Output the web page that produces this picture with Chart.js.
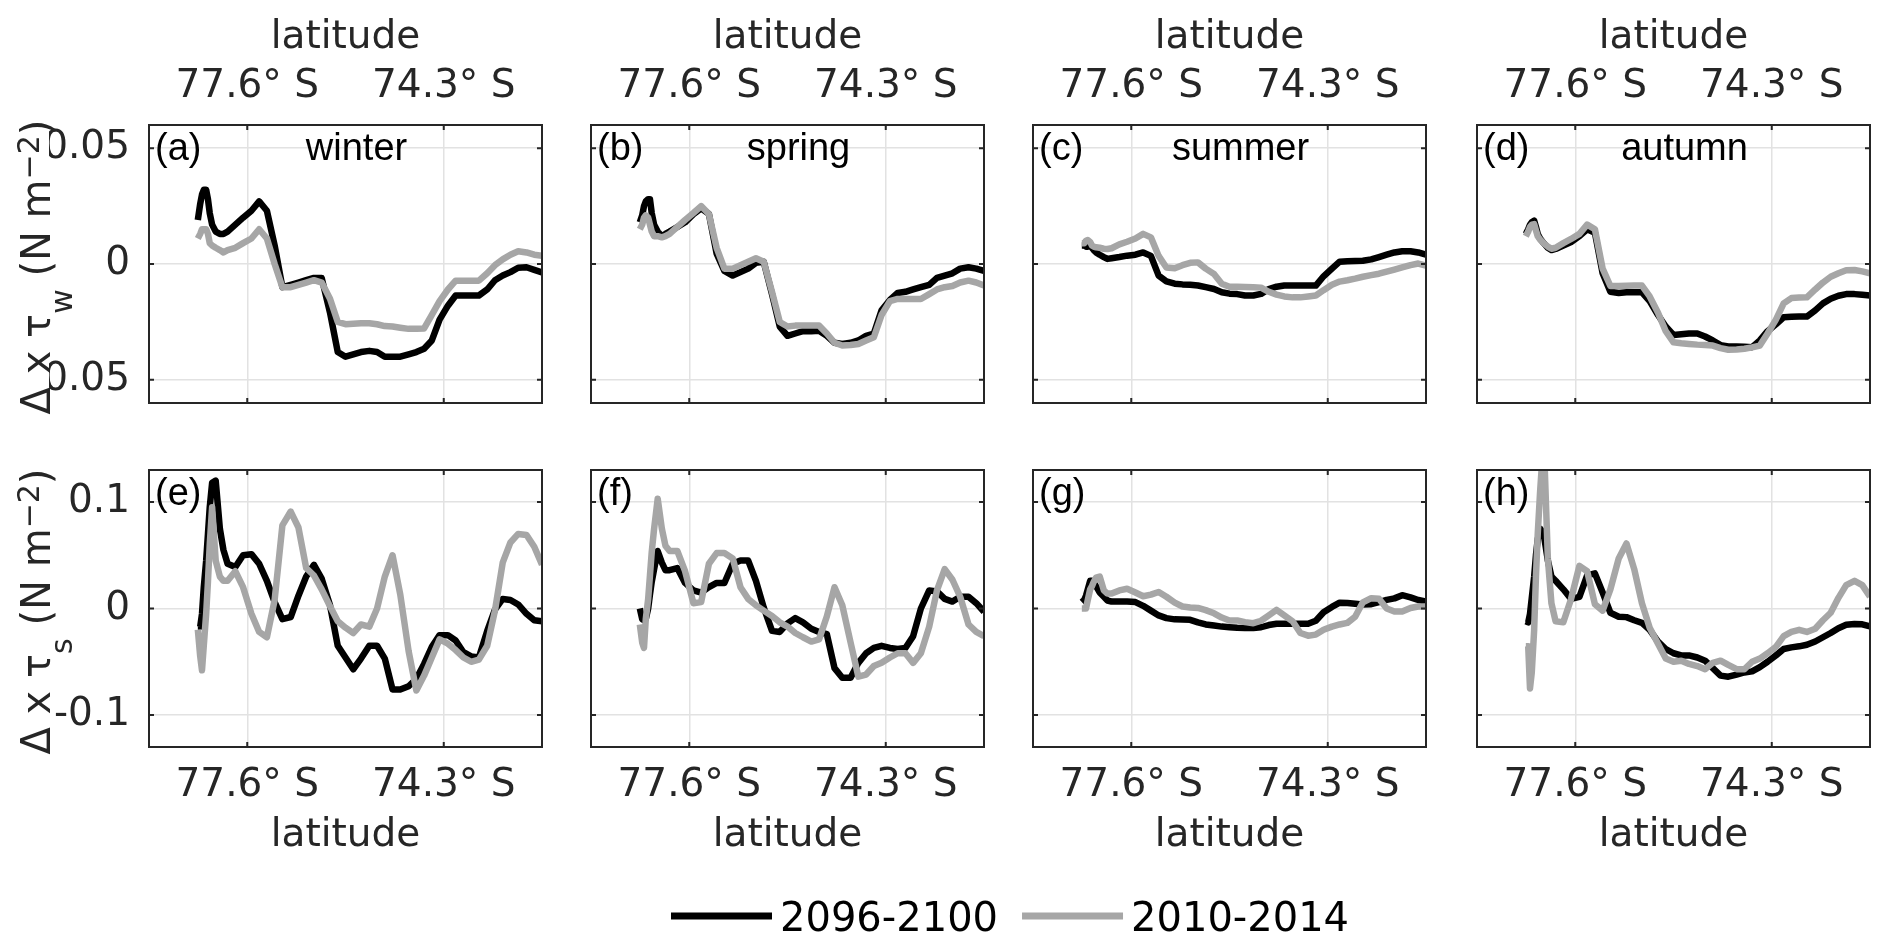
<!DOCTYPE html>
<html>
<head>
<meta charset="utf-8">
<script src="https://cdn.jsdelivr.net/npm/chart.js@4.4.1/dist/chart.umd.min.js"></script>
<style>
  html, body { margin: 0; padding: 0; background: #fff; }
  #fig { position: relative; width: 1892px; height: 950px; }
  #fig canvas { position: absolute; left: 0; top: 0; }
</style>
</head>
<body>
<div id="fig"></div>
<script>
// latitude (deg S) of each sample along the transect
const latitude = [78.43, 78.39, 78.36, 78.33, 78.29, 78.26, 78.23, 78.19, 78.13, 78.06, 78.00, 77.93,
    77.80, 77.67, 77.53, 77.40, 77.27, 77.14, 77.01, 76.87, 76.74, 76.61,
    76.48, 76.35, 76.21, 76.08, 75.95, 75.82, 75.69, 75.55, 75.42, 75.29,
    75.16, 75.03, 74.89, 74.76, 74.63, 74.50, 74.37, 74.23, 74.10, 73.97,
    73.84, 73.71, 73.57, 73.44, 73.31, 73.18, 73.05, 72.91, 72.78, 72.65];

const seasons = ["winter", "spring", "summer", "autumn"];
const panelTags = ["(a)", "(b)", "(c)", "(d)", "(e)", "(f)", "(g)", "(h)"];
const seriesLabels = ["2096-2100", "2010-2014"];
const xTicks = [77.6, 74.3];
const yTicksWind = [-0.05, 0, 0.05];
const yTicksStress = [-0.1, 0, 0.1];

// top row: delta x tau_w (N m-2)
const windWinter2096 = [0.019, 0.026, 0.030, 0.032, 0.032, 0.028, 0.022, 0.017, 0.014, 0.013, 0.013, 0.014,
    0.017, 0.020, 0.023, 0.027, 0.023, 0.008, -0.010, -0.009, -0.008, -0.007,
    -0.006, -0.006, -0.021, -0.038, -0.040, -0.039, -0.038, -0.0375, -0.038, -0.040,
    -0.040, -0.040, -0.039, -0.038, -0.0366, -0.033, -0.024, -0.018, -0.0136, -0.0136,
    -0.0136, -0.0136, -0.011, -0.007, -0.005, -0.0035, -0.0016, -0.0014, -0.0025, -0.0036];
const windWinter2010 = [0.011, 0.013, 0.015, 0.015, 0.015, 0.013, 0.009, 0.008, 0.007, 0.006, 0.005, 0.006,
    0.007, 0.009, 0.011, 0.015, 0.011, 0.0, -0.010, -0.010, -0.009, -0.008,
    -0.007, -0.008, -0.015, -0.025, -0.026, -0.0258, -0.0256, -0.0256, -0.026, -0.0268,
    -0.027, -0.0275, -0.028, -0.028, -0.0278, -0.022, -0.016, -0.011, -0.0072, -0.0072,
    -0.0072, -0.0072, -0.004, -0.0005, 0.002, 0.004, 0.0055, 0.005, 0.004, 0.0036];
const windSpring2096 = [0.018, 0.021, 0.025, 0.027, 0.028, 0.028, 0.022, 0.017, 0.014, 0.012, 0.013, 0.014,
    0.016, 0.018, 0.0215, 0.024, 0.0216, 0.0045, -0.003, -0.005, -0.0035, -0.002,
    0.0005, 0.001, -0.013, -0.027, -0.031, -0.030, -0.029, -0.029, -0.0288, -0.031,
    -0.034, -0.0345, -0.034, -0.033, -0.031, -0.030, -0.020, -0.0155, -0.0125, -0.012,
    -0.011, -0.010, -0.009, -0.006, -0.005, -0.004, -0.002, -0.0014, -0.002, -0.003];
const windSpring2010 = [0.015, 0.017, 0.020, 0.021, 0.020, 0.017, 0.014, 0.012, 0.012, 0.0115, 0.012, 0.013,
    0.016, 0.019, 0.022, 0.025, 0.0216, 0.007, -0.002, -0.002, -0.0005, 0.001,
    0.0025, 0.001, -0.012, -0.025, -0.027, -0.0266, -0.0266, -0.0266, -0.0266, -0.030,
    -0.034, -0.0352, -0.035, -0.0345, -0.033, -0.0316, -0.022, -0.016, -0.0151, -0.0151,
    -0.0151, -0.0151, -0.013, -0.011, -0.010, -0.0095, -0.008, -0.0072, -0.008, -0.0093];
const windSummer2096 = [0.008, 0.008, 0.0075, 0.0075, 0.008, 0.007, 0.006, 0.005, 0.004, 0.003, 0.0022, 0.0025,
    0.003, 0.0036, 0.004, 0.005, 0.0035, -0.005, -0.0075, -0.0085, -0.0088, -0.009,
    -0.0093, -0.010, -0.0108, -0.0122, -0.0128, -0.013, -0.0136, -0.0136, -0.0129, -0.0108,
    -0.0098, -0.0093, -0.0093, -0.0093, -0.0093, -0.0093, -0.0053, -0.002, 0.001, 0.0012,
    0.0013, 0.0014, 0.002, 0.003, 0.004, 0.005, 0.0055, 0.0055, 0.005, 0.004];
const windSummer2010 = [0.009, 0.009, 0.010, 0.0103, 0.0095, 0.008, 0.0075, 0.0072, 0.007, 0.0066, 0.0065, 0.0068,
    0.0085, 0.0096, 0.011, 0.013, 0.0115, 0.0035, -0.0015, -0.0018, -0.0005, 0.0005,
    0.0007, -0.002, -0.0043, -0.0085, -0.0098, -0.0098, -0.0099, -0.010, -0.0102, -0.012,
    -0.0132, -0.014, -0.0144, -0.0144, -0.014, -0.0136, -0.0113, -0.009, -0.0076, -0.007,
    -0.0063, -0.0055, -0.0048, -0.0042, -0.0033, -0.0024, -0.0015, -0.0005, 0.0002, -0.0007];
const windAutumn2096 = [0.013, 0.015, 0.017, 0.018, 0.0187, 0.016, 0.013, 0.011, 0.009, 0.007, 0.006, 0.0065,
    0.008, 0.0095, 0.012, 0.015, 0.0135, -0.004, -0.012, -0.0125, -0.0122, -0.0122,
    -0.0122, -0.016, -0.022, -0.027, -0.0306, -0.0303, -0.030, -0.030, -0.0313, -0.033,
    -0.035, -0.0356, -0.0356, -0.0357, -0.0359, -0.033, -0.029, -0.026, -0.023, -0.0228,
    -0.0227, -0.0227, -0.020, -0.017, -0.015, -0.0137, -0.013, -0.013, -0.0133, -0.0136];
const windAutumn2010 = [0.012, 0.014, 0.016, 0.017, 0.0172, 0.0145, 0.012, 0.0105, 0.009, 0.0075, 0.0066, 0.007,
    0.009, 0.0108, 0.013, 0.017, 0.015, -0.002, -0.0095, -0.0095, -0.0094, -0.0093,
    -0.0093, -0.014, -0.021, -0.029, -0.0338, -0.0342, -0.0345, -0.0348, -0.035, -0.0352,
    -0.0363, -0.037, -0.0369, -0.0366, -0.036, -0.0352, -0.030, -0.024, -0.017, -0.0147,
    -0.0145, -0.0144, -0.011, -0.008, -0.0055, -0.004, -0.0027, -0.0026, -0.0032, -0.004];

// bottom row: delta x tau_s (N m-2)
const stressWinter2096 = [-0.017, -0.017, -0.005, 0.020, 0.045, 0.070, 0.095, 0.118, 0.120, 0.075, 0.055, 0.042,
    0.039, 0.050, 0.051, 0.042, 0.026, 0.006, -0.010, -0.008, 0.012, 0.030,
    0.041, 0.028, 0.003, -0.035, -0.046, -0.057, -0.047, -0.035, -0.035, -0.047,
    -0.076, -0.076, -0.073, -0.066, -0.052, -0.036, -0.025, -0.025, -0.030, -0.041,
    -0.045, -0.046, -0.021, -0.001, 0.009, 0.008, 0.0038, -0.005, -0.011, -0.012];
const stressWinter2010 = [-0.020, -0.045, -0.058, -0.035, -0.005, 0.025, 0.060, 0.095, 0.045, 0.030, 0.026, 0.026,
    0.035, 0.020, -0.005, -0.022, -0.027, 0.008, 0.078, 0.091, 0.076, 0.038,
    0.031, 0.018, 0.002, -0.012, -0.018, -0.023, -0.015, -0.017, 0.0, 0.030,
    0.050, 0.013, -0.040, -0.077, -0.063, -0.046, -0.029, -0.033, -0.039, -0.046,
    -0.050, -0.048, -0.035, -0.002, 0.043, 0.062, 0.070, 0.069, 0.058, 0.041];
const stressSpring2096 = [0.0, -0.010, -0.011, -0.010, 0.0, 0.013, 0.025, 0.037, 0.054, 0.043, 0.036, 0.036,
    0.038, 0.024, 0.017, 0.015, 0.020, 0.024, 0.024, 0.042, 0.045, 0.045,
    0.026, 0.001, -0.021, -0.022, -0.014, -0.009, -0.013, -0.019, -0.022, -0.024,
    -0.056, -0.065, -0.065, -0.051, -0.042, -0.037, -0.035, -0.037, -0.038, -0.037,
    -0.026, 0.0, 0.017, 0.016, 0.009, 0.0065, 0.011, 0.011, 0.005, -0.003];
const stressSpring2010 = [-0.015, -0.032, -0.037, -0.010, 0.009, 0.031, 0.053, 0.075, 0.103, 0.075, 0.059, 0.054,
    0.054, 0.035, 0.005, 0.006, 0.042, 0.052, 0.052, 0.047, 0.020, 0.009,
    0.003, -0.002, -0.007, -0.013, -0.017, -0.023, -0.027, -0.031, -0.029, -0.0075,
    0.020, 0.003, -0.032, -0.064, -0.062, -0.054, -0.051, -0.046, -0.042, -0.042,
    -0.051, -0.042, -0.017, 0.017, 0.037, 0.027, 0.011, -0.015, -0.022, -0.026];
const stressSummer2096 = [0.006, 0.008, 0.012, 0.018, 0.026, 0.026, 0.024, 0.021, 0.015, 0.011, 0.0075, 0.0065,
    0.0065, 0.0065, 0.006, 0.0025, -0.002, -0.0065, -0.009, -0.0102, -0.0103, -0.0106,
    -0.013, -0.015, -0.016, -0.017, -0.0176, -0.0181, -0.0184, -0.0184, -0.0176, -0.0155,
    -0.0143, -0.0143, -0.0143, -0.0143, -0.0143, -0.0115, -0.0035, 0.0015, 0.0055, 0.0052,
    0.0045, 0.0038, 0.004, 0.006, 0.0081, 0.0095, 0.0125, 0.0105, 0.008, 0.0065];
const stressSummer2010 = [0.0, 0.0, 0.0, 0.008, 0.018, 0.021, 0.025, 0.029, 0.030, 0.017, 0.014, 0.014,
    0.017, 0.0185, 0.015, 0.0115, 0.013, 0.0155, 0.011, 0.0055, 0.0019, 0.001,
    0.0005, -0.0015, -0.0045, -0.0085, -0.0112, -0.0112, -0.0128, -0.0138, -0.0115, -0.0065,
    -0.0013, -0.0065, -0.012, -0.023, -0.0255, -0.0245, -0.020, -0.017, -0.015, -0.0135,
    -0.0077, 0.0058, 0.0097, 0.0092, 0.0, -0.0028, -0.0028, 0.0005, 0.0019, 0.0019];
const stressAutumn2096 = [-0.012, -0.013, -0.005, 0.010, 0.030, 0.050, 0.065, 0.075, 0.070, 0.045, 0.030, 0.026,
    0.018, 0.009, 0.011, 0.031, 0.033, 0.015, -0.004, -0.0077, -0.0081, -0.011,
    -0.0135, -0.020, -0.031, -0.038, -0.042, -0.044, -0.044, -0.046, -0.049, -0.056,
    -0.063, -0.064, -0.062, -0.060, -0.059, -0.055, -0.050, -0.044, -0.038, -0.0365,
    -0.0355, -0.034, -0.031, -0.027, -0.023, -0.0185, -0.0153, -0.0145, -0.0148, -0.0168];
const stressAutumn2010 = [-0.0355, -0.0355, -0.075, -0.060, -0.020, 0.030, 0.070, 0.110, 0.160, 0.047, 0.005, -0.012,
    -0.013, 0.009, 0.040, 0.035, 0.004, -0.002, 0.018, 0.047, 0.061, 0.037,
    0.005, -0.018, -0.033, -0.047, -0.050, -0.049, -0.052, -0.054, -0.057, -0.051,
    -0.049, -0.053, -0.057, -0.057, -0.050, -0.047, -0.042, -0.036, -0.026, -0.022,
    -0.020, -0.022, -0.019, -0.011, -0.004, 0.010, 0.022, 0.026, 0.022, 0.0112];

const future = [windWinter2096, windSpring2096, windSummer2096, windAutumn2096,
    stressWinter2096, stressSpring2096, stressSummer2096, stressAutumn2096];
const present = [windWinter2010, windSpring2010, windSummer2010, windAutumn2010,
    stressWinter2010, stressSpring2010, stressSummer2010, stressAutumn2010];

// page geometry (px)
const W = 1892, H = 950;
const colLeft = [149, 591, 1033, 1477];
const colRight = [542, 984, 1426, 1870];
const rowTop = [125, 470];
const rowBottom = [403, 747];

const AX = "#262626";
const GRID = "#e2e2e2";
const BLACK = "#000000";
const GREY = "#a6a6a6";
const tickFont = { family: "DejaVu Sans", size: 39, lineHeight: 1 };

function drawRich(ctx, parts, baseX, centerY, size) {
    let total = 0;
    const widths = parts.map((p) => {
        ctx.font = `${size * p.scale}px "DejaVu Sans"`;
        const w = ctx.measureText(p.text).width;
        total += w;
        return w;
    });
    ctx.save();
    ctx.translate(baseX, centerY);
    ctx.rotate(-Math.PI / 2);
    ctx.textBaseline = "alphabetic";
    ctx.textAlign = "left";
    let x = -total / 2;
    parts.forEach((p, i) => {
        ctx.font = `${size * p.scale}px "DejaVu Sans"`;
        ctx.fillText(p.text, x, p.shift * size);
        x += widths[i];
    });
    ctx.restore();
}

const panelDeco = {
    id: "panelDeco",
    afterDatasetsDraw(chart, args, opts) {
        const { ctx, chartArea: a } = chart;
        const xs = chart.scales.x, ys = chart.scales.y;
        ctx.save();
        ctx.strokeStyle = AX;
        ctx.lineWidth = 2;
        ctx.strokeRect(a.left, a.top, a.right - a.left, a.bottom - a.top);
        // inward ticks on all four sides
        const tl = 5;
        ctx.beginPath();
        xs.ticks.forEach((t) => {
            const px = xs.getPixelForValue(t.value);
            ctx.moveTo(px, a.top); ctx.lineTo(px, a.top + tl);
            ctx.moveTo(px, a.bottom); ctx.lineTo(px, a.bottom - tl);
        });
        ys.ticks.forEach((t) => {
            const py = ys.getPixelForValue(t.value);
            ctx.moveTo(a.left, py); ctx.lineTo(a.left + tl, py);
            ctx.moveTo(a.right, py); ctx.lineTo(a.right - tl, py);
        });
        ctx.stroke();

        ctx.fillStyle = "#000";
        ctx.font = '38px "Liberation Sans"';
        ctx.textBaseline = "alphabetic";
        ctx.textAlign = "left";
        ctx.fillText(opts.tag, a.left + 6, a.top + 35);
        if (opts.season) {
            ctx.textAlign = "center";
            ctx.fillText(opts.season, (a.left + a.right) / 2 + 11, a.top + 35);
        }

        if (opts.ySub) {
            ctx.fillStyle = AX;
            drawRich(ctx, [
                { text: "\u0394 x \u03c4", scale: 1, shift: 0 },
                { text: opts.ySub, scale: 0.75, shift: 0.54 },
                { text: " (N m", scale: 1, shift: 0 },
                { text: "\u22122", scale: 0.75, shift: -0.28 },
                { text: ")", scale: 1, shift: 0 },
            ], 50, (a.top + a.bottom) / 2 + 3, 40);
        }
        ctx.restore();
    },
};

const figureLegend = {
    id: "figureLegend",
    afterDraw(chart, args, opts) {
        if (!opts.show) return;
        const ctx = chart.ctx;
        ctx.save();
        ctx.font = '40px "DejaVu Sans"';
        ctx.textBaseline = "alphabetic";
        ctx.textAlign = "left";
        let x = opts.x;
        seriesLabels.forEach((lab) => {
            const ds = chart.data.datasets.find((d) => d.label === lab);
            ctx.strokeStyle = ds.borderColor;
            ctx.lineWidth = 7;
            ctx.beginPath();
            ctx.moveTo(x, opts.y);
            ctx.lineTo(x + 101, opts.y);
            ctx.stroke();
            x += 101 + 8;
            ctx.fillStyle = "#000";
            ctx.fillText(lab, x, opts.y + 15);
            x += ctx.measureText(lab).width + 24;
        });
        ctx.restore();
    },
};

function makePanel(row, col) {
    const idx = row * 4 + col;
    const canvas = document.createElement("canvas");
    canvas.width = W;
    canvas.height = H;
    canvas.style.width = W + "px";
    canvas.style.height = H + "px";
    document.getElementById("fig").appendChild(canvas);

    const top = row === 0;
    const yAxisW = col === 0 ? 100 : 0;
    const xAxisH = top ? 125 : 150;
    const yTicks = top ? yTicksWind : yTicksStress;
    const yLim = top ? 0.06 : 0.13;

    const pts = (vals) => latitude.map((lat, i) => ({ x: lat, y: vals[i] }));

    new Chart(canvas, {
        type: "line",
        data: {
            datasets: [
                { label: seriesLabels[1], data: pts(present[idx]), borderColor: GREY, order: 0 },
                { label: seriesLabels[0], data: pts(future[idx]), borderColor: BLACK, order: 1 },
            ],
        },
        options: {
            responsive: false,
            animation: false,
            events: [],
            layout: {
                autoPadding: false,
                padding: {
                    left: colLeft[col] - yAxisW,
                    right: W - colRight[col],
                    top: top ? rowTop[0] - xAxisH : rowTop[1],
                    bottom: top ? H - rowBottom[0] : H - rowBottom[1] - xAxisH,
                },
            },
            datasets: { line: { clip: 0 } },
            elements: {
                line: { borderWidth: 6.5, tension: 0, borderJoinStyle: "round", fill: false },
                point: { radius: 0 },
            },
            plugins: {
                legend: { display: false },
                tooltip: { enabled: false },
                panelDeco: {
                    tag: panelTags[idx],
                    season: top ? seasons[col] : "",
                    ySub: col === 0 ? (top ? "w" : "s") : "",
                },
                figureLegend: { show: idx === 7, x: 671, y: 916 },
            },
            scales: {
                x: {
                    type: "linear",
                    reverse: true,
                    min: 72.65,
                    max: 79.25,
                    position: top ? "top" : "bottom",
                    afterBuildTicks: (s) => { s.ticks = xTicks.map((v) => ({ value: v })); },
                    afterFit: (s) => { s.height = xAxisH; },
                    grid: { color: GRID, lineWidth: 1.5, drawTicks: false },
                    border: { display: false },
                    ticks: {
                        font: tickFont, color: AX, padding: 19, maxRotation: 0, autoSkip: false,
                        callback: (v) => v.toFixed(1) + "\u00b0 S",
                    },
                    title: {
                        display: true, text: "latitude", font: tickFont, color: AX,
                        padding: top ? { top: 18.7, bottom: 0 } : { top: 0, bottom: 41.4 },
                    },
                },
                y: {
                    type: "linear",
                    min: -yLim,
                    max: yLim,
                    afterBuildTicks: (s) => { s.ticks = yTicks.map((v) => ({ value: v })); },
                    afterFit: (s) => { s.width = yAxisW; },
                    grid: { color: GRID, lineWidth: 1.5, drawTicks: false },
                    border: { display: false },
                    ticks: {
                        display: col === 0, font: tickFont, color: AX, padding: 19,
                        callback: (v) => String(v),
                    },
                },
            },
        },
        plugins: [panelDeco, figureLegend],
    });
}

for (let r = 0; r < 2; r++) {
    for (let c = 0; c < 4; c++) makePanel(r, c);
}
</script>
</body>
</html>
